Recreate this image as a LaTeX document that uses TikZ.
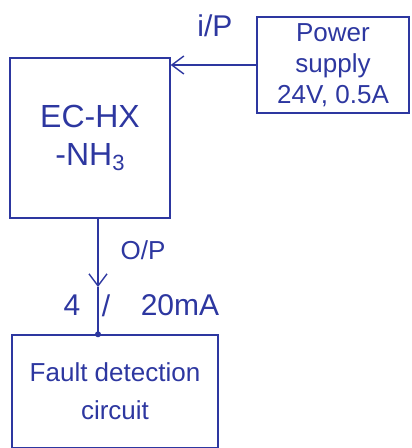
\documentclass[tikz,border=0pt]{standalone}
\usepackage{fontspec}
\setmainfont{Liberation Sans}
\usetikzlibrary{arrows.meta}
\definecolor{ink}{RGB}{45,55,160}
\newcommand{\lowsub}[1]{\raisebox{-5pt}{\fontsize{22}{22}\selectfont #1}}
\tikzset{
  box/.style={draw=ink, line width=1.4pt, rectangle, inner sep=0pt, align=center, text=ink},
  lbl/.style={text=ink, inner sep=0pt},
  arr/.style={draw=ink, line width=1.4pt, -{Straight Barb[length=12pt,width=18pt,line width=1.4pt]}},
  wire/.style={draw=ink, line width=1.4pt}
}
\begin{document}
\begin{tikzpicture}[x=1pt,y=-1pt]
\useasboundingbox (0,0) rectangle (412,448);
\node[box, minimum width=160pt, minimum height=160pt,
      font=\fontsize{32}{38}\selectfont] (ec) at (90,138) {EC-HX\\[0pt]-NH\lowsub{3}};
\node[box, minimum width=152pt, minimum height=96pt,
      font=\fontsize{26}{31}\selectfont] (power) at (333,65) {Power\\supply\\24V, 0.5A};
\node[box, minimum width=206pt, minimum height=113pt,
      font=\fontsize{26}{38}\selectfont] (fault) at (115,391.5) {Fault detection\\circuit};
\node[lbl, font=\fontsize{30}{34}\selectfont] (ip) at (215,26) {i/P};
\node[lbl, font=\fontsize{26}{30}\selectfont] (op) at (143,250) {O/P};
\node[lbl, font=\fontsize{30}{34}\selectfont] (four) at (72,305) {4};
\node[lbl, font=\fontsize{30}{34}\selectfont] (slash) at (106,306) {/};
\node[lbl, font=\fontsize{30}{34}\selectfont] (ma) at (180,305) {20mA};
\coordinate (mid) at (98,287);
\draw[arr] (power.west) -- (power.west -| ec.east);
\draw[arr] (mid |- ec.south) -- (mid);
\draw[wire] (mid) -- (mid |- fault.north);
\fill[ink] (mid |- fault.north) circle (3pt);
\end{tikzpicture}
\end{document}
